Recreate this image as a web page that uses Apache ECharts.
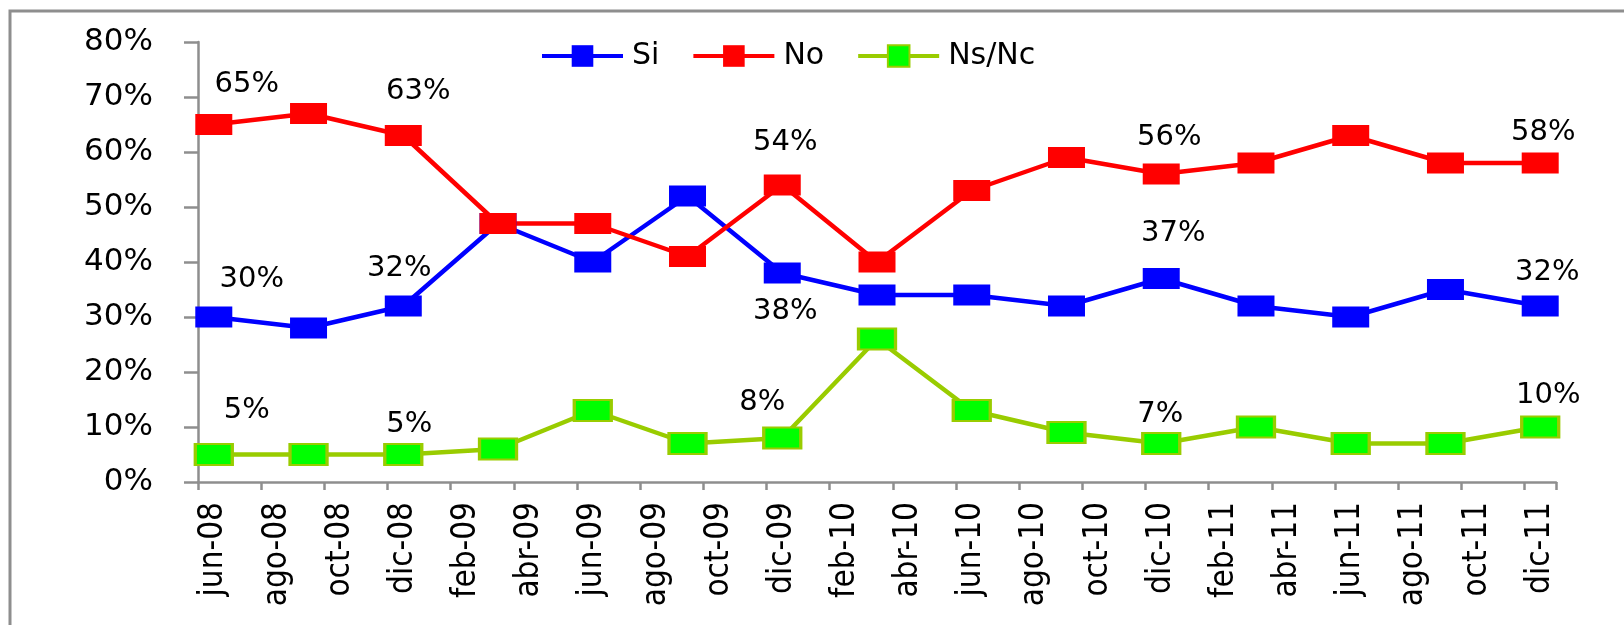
<!DOCTYPE html>
<html>
<head>
<meta charset="utf-8">
<script src="https://cdn.jsdelivr.net/npm/echarts@6/dist/echarts.min.js"></script>
<style>
html,body{margin:0;padding:0;background:#ffffff;}
#chart{width:1624px;height:625px;}
</style>
</head>
<body>
<div id="chart"></div>
<script>
// ---- data ----
const months = [
  'jun-08','jul-08','ago-08','sep-08','oct-08','nov-08','dic-08',
  'ene-09','feb-09','mar-09','abr-09','may-09','jun-09','jul-09','ago-09','sep-09','oct-09','nov-09','dic-09',
  'ene-10','feb-10','mar-10','abr-10','may-10','jun-10','jul-10','ago-10','sep-10','oct-10','nov-10','dic-10',
  'ene-11','feb-11','mar-11','abr-11','may-11','jun-11','jul-11','ago-11','sep-11','oct-11','nov-11','dic-11'
];
const surveyDates = ['jun-08','sep-08','dic-08','mar-09','jun-09','sep-09','dic-09','mar-10','jun-10','sep-10','dic-10','mar-11','jun-11','sep-11','dic-11'];
const siValues = [30,28,32,47,40,52,38,34,34,32,37,32,30,35,32];
const noValues = [65,67,63,47,47,41,54,40,53,59,56,58,63,58,58];
const nsValues = [5,5,5,6,13,7,8,26,13,9,7,10,7,7,10];
const seriesNames = ['Si','No','Ns/Nc'];
const labeledDates = ['jun-08','dic-08','dic-09','dic-10','dic-11'];

// ---- layout / style (not data) ----
const labelOffsets = {
  'Si':    {'jun-08':[38,-38], 'dic-08':[-4,-38], 'dic-09':[3,38],  'dic-10':[12,-45], 'dic-11':[7,-34]},
  'No':    {'jun-08':[33,-40], 'dic-08':[15,-44], 'dic-09':[3,-43], 'dic-10':[8,-37],  'dic-11':[3,-31]},
  'Ns/Nc': {'jun-08':[33,-44], 'dic-08':[6,-30],  'dic-09':[-20,-36],'dic-10':[-1,-29], 'dic-11':[8,-32]}
};
const styles = {
  'Si':    {line:'#0000ff', fill:'#0000ff', border:'#0000ff', bw:0},
  'No':    {line:'#ff0000', fill:'#ff0000', border:'#ff0000', bw:0},
  'Ns/Nc': {line:'#99cc00', fill:'#00ff00', border:'#99cc00', bw:2.5}
};

function buildSeries(name, values) {
  const st = styles[name];
  const offs = labelOffsets[name];
  return {
    name: name,
    type: 'line',
    data: surveyDates.map(function (d, i) {
      const item = {value: [d, values[i]]};
      if (labeledDates.indexOf(d) >= 0) {
        item.label = {show: true, offset: offs[d]};
      }
      return item;
    }),
    symbol: 'rect',
    symbolSize: [37, 21],
    lineStyle: {color: st.line, width: 4.5},
    itemStyle: {color: st.fill, borderColor: st.border, borderWidth: st.bw},
    label: {
      show: false,
      position: 'inside',
      formatter: function (p) { return p.value[1] + '%'; },
      color: '#000000',
      fontFamily: 'DejaVu Sans',
      fontSize: 29
    },
    emphasis: {disabled: true},
    animation: false
  };
}

const chart = echarts.init(document.getElementById('chart'), null, {renderer: 'canvas'});
chart.setOption({
  backgroundColor: '#ffffff',
  animation: false,
  graphic: [{
    type: 'rect',
    silent: true,
    z: -10,
    shape: {x: 10, y: 11, width: 1700, height: 700},
    style: {fill: 'none', stroke: '#8e8e8e', lineWidth: 3}
  }],
  legend: {
    left: 535,
    top: 36,
    itemWidth: 81,
    itemHeight: 27,
    itemGap: 32,
    data: seriesNames,
    lineStyle: {width: 4},
    textStyle: {fontFamily: 'DejaVu Sans', fontSize: 30, color: '#000000', padding: [0, 0, 0, 4]}
  },
  grid: {left: 198, right: 68, top: 42, bottom: 143, containLabel: false},
  xAxis: {
    type: 'category',
    data: months,
    boundaryGap: true,
    axisLine: {lineStyle: {color: '#8e8e8e', width: 2.5}},
    axisTick: {show: true, interval: 1, alignWithLabel: false, length: 8, lineStyle: {color: '#8e8e8e', width: 2.5}},
    axisLabel: {
      interval: 1,
      rotate: 90,
      margin: 20,
      color: '#000000',
      fontFamily: "'Liberation Sans Narrow', 'DejaVu Sans Condensed', 'Arial Narrow', sans-serif",
      fontSize: 33
    },
    splitLine: {show: false}
  },
  yAxis: {
    type: 'value',
    min: 0,
    max: 80,
    interval: 10,
    axisLine: {show: true, lineStyle: {color: '#8e8e8e', width: 2.5}},
    axisTick: {show: true, inside: false, length: 14, lineStyle: {color: '#8e8e8e', width: 2.5}},
    axisLabel: {
      formatter: '{value}%',
      margin: 45,
      color: '#000000',
      fontFamily: 'DejaVu Sans',
      fontSize: 31
    },
    splitLine: {show: false}
  },
  series: [
    buildSeries('Si', siValues),
    buildSeries('No', noValues),
    buildSeries('Ns/Nc', nsValues)
  ]
});
</script>
</body>
</html>
